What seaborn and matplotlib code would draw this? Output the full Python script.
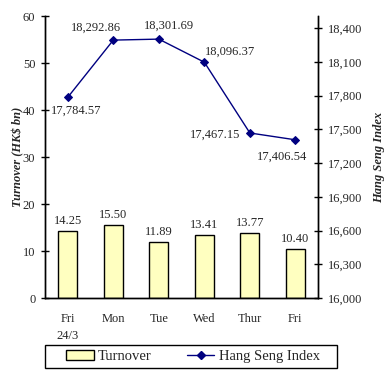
import matplotlib
matplotlib.use("Agg")
import matplotlib.pyplot as plt
import seaborn as sns
import pandas as pd
from matplotlib.patches import Patch, Rectangle
from matplotlib.lines import Line2D

days = ["Fri\n24/3", "Mon", "Tue", "Wed", "Thur", "Fri"]
turnover = [14.25, 15.50, 11.89, 13.41, 13.77, 10.40]
hsi = [17784.57, 18292.86, 18301.69, 18096.37, 17467.15, 17406.54]
# label offsets (points) for the index annotations
hsi_offsets = [(6, -9.5), (-12.5, 8.8), (7, 9.4), (18.5, 7.2), (-25, -1.4), (-9.4, -12.2)]

df = pd.DataFrame({"day": days, "turnover": turnover, "hsi": hsi, "pos": range(len(days))})

sns.set_style("white")
plt.rcParams["font.family"] = ["Liberation Serif", "DejaVu Serif"]
plt.rcParams["font.size"] = 9

fig = plt.figure(figsize=(3.88, 3.77), dpi=100)
ax = fig.add_axes([0.116, 0.2095, 0.704, 0.748])
ax2 = ax.twinx()

sns.barplot(data=df, x="pos", y="turnover", color="#FFFFC0", edgecolor="black",
            linewidth=1, width=0.42, saturation=1, ax=ax, native_scale=True)
for c in ax.containers:
    ax.bar_label(c, fmt="%.2f", padding=3, fontsize=9)

sns.lineplot(data=df, x="pos", y="hsi", color="#000080", marker="D", markersize=4.5,
             markeredgecolor="#000080", linewidth=1, ax=ax2)
for i, v in enumerate(hsi):
    ax2.annotate(f"{v:,.2f}", (i, v), xytext=hsi_offsets[i], textcoords="offset points",
                 ha="center", va="center", fontsize=9)

ax.set_xlim(-0.5, len(days) - 0.5)
ax.set_ylim(0, 60)
ax.set_yticks(range(0, 61, 10))
ax2.set_ylim(16000, 18507)
ax2.set_yticks(range(16000, 18401, 300))
ax2.set_yticklabels([f"{t:,}" for t in range(16000, 18401, 300)])

ax.set_xticks([i + 0.5 for i in range(-1, len(days))])
ax.set_xticklabels([""] * (len(days) + 1))
ax.set_xticks(range(len(days)), minor=True)
ax.set_xticklabels(days, minor=True, linespacing=1.5)
ax.tick_params(axis="x", which="minor", length=0, pad=11)
ax.tick_params(axis="x", which="major", direction="inout", length=6, width=1, color="black")
ax.tick_params(axis="y", direction="inout", length=6, width=1, color="black", left=True, pad=4)
ax2.tick_params(axis="y", direction="inout", length=6, width=1, color="black", right=True, pad=4)

ax.set_xlabel("")
ax.set_ylabel("Turnover (HK$ bn)", fontweight="bold", fontstyle="italic", labelpad=-1)
ax2.set_ylabel("Hang Seng Index", fontweight="bold", fontstyle="italic", labelpad=8)
ax2.set_xlabel("")

for a in (ax, ax2):
    a.spines["top"].set_visible(False)
    for s in ("left", "right", "bottom"):
        a.spines[s].set_color("black")
        a.spines[s].set_linewidth(1)
    a.grid(False)

handles = [Patch(facecolor="#FFFFC0", edgecolor="black", linewidth=1),
           Line2D([0], [0], color="#000080", marker="D", markersize=4.5, linewidth=1)]
leg = fig.legend(handles, ["Turnover", "Hang Seng Index"], loc="center",
                 bbox_to_anchor=(0.497, 0.054), ncol=2, frameon=False,
                 fontsize=10.5, handlelength=1.9, handletextpad=0.3, columnspacing=2.4,
                 borderpad=0.25)
# legend box drawn wider than the legend's own padding allows
fig.patches.append(Rectangle((45 / 388, 9 / 377), 292 / 388, 23 / 377, transform=fig.transFigure,
                             fill=False, edgecolor="black", linewidth=1))

fig.savefig("out.png", dpi=100)
